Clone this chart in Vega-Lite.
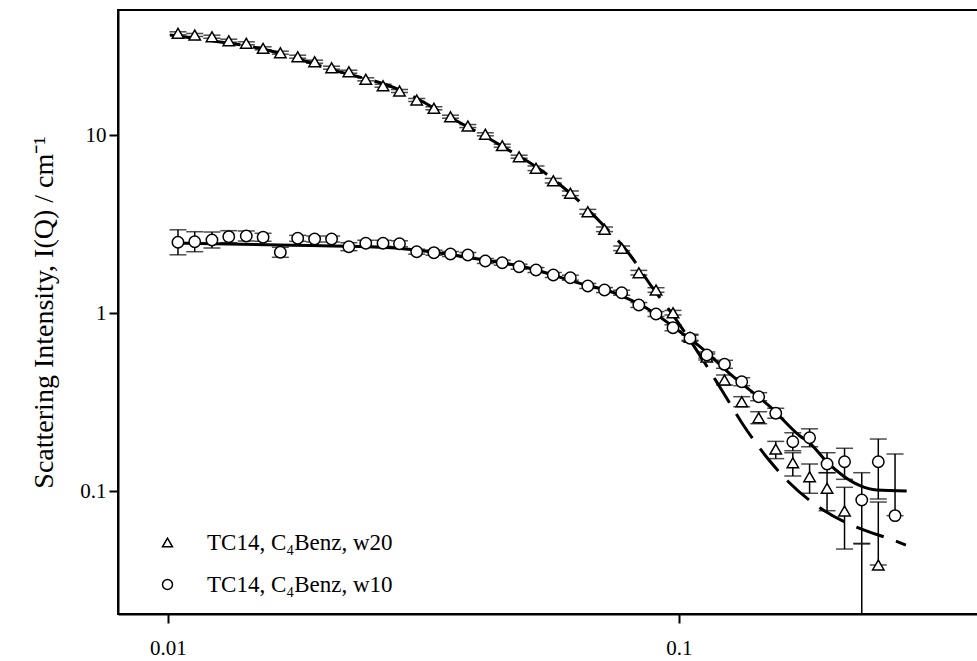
{
  "$schema": "https://vega.github.io/schema/vega-lite/v6.json",
  "width": 860,
  "height": 604,
  "autosize": {"type": "none"},
  "padding": {"left": 118, "top": 10, "right": 0, "bottom": 47},
  "background": "white",
  "config": {
    "view": {"stroke": "black", "strokeWidth": 2},
    "font": "Liberation Serif",
    "axis": {
      "grid": false,
      "domainColor": "black",
      "domainWidth": 2,
      "tickColor": "black",
      "tickWidth": 2,
      "tickSize": 9,
      "labelColor": "black",
      "labelFont": "Liberation Serif",
      "labelFontSize": 21,
      "titleFont": "Liberation Serif",
      "titleFontSize": 28,
      "titleFontWeight": "normal",
      "titleColor": "black"
    },
    "legend": {
      "padding": 0,
      "labelOffset": 28,
      "rowPadding": 18,
      "labelFont": "Liberation Serif",
      "labelFontSize": 23,
      "labelColor": "black",
      "labelLimit": 0
    }
  },
  "datasets": {
    "pts": [
      {"s":"w20","q":0.01046,"I":37.27,"lo":36.55,"hi":38.00},
      {"s":"w20","q":0.01128,"I":36.47,"lo":35.77,"hi":37.18},
      {"s":"w20","q":0.01219,"I":35.67,"lo":34.98,"hi":36.37},
      {"s":"w20","q":0.01315,"I":33.87,"lo":33.22,"hi":34.53},
      {"s":"w20","q":0.01423,"I":32.75,"lo":32.12,"hi":33.39},
      {"s":"w20","q":0.01535,"I":30.69,"lo":30.10,"hi":31.29},
      {"s":"w20","q":0.01659,"I":29.00,"lo":28.44,"hi":29.57},
      {"s":"w20","q":0.01794,"I":27.54,"lo":27.01,"hi":28.08},
      {"s":"w20","q":0.01936,"I":25.81,"lo":25.31,"hi":26.32},
      {"s":"w20","q":0.02090,"I":23.88,"lo":23.42,"hi":24.35},
      {"s":"w20","q":0.02259,"I":22.68,"lo":22.24,"hi":23.12},
      {"s":"w20","q":0.02438,"I":20.56,"lo":20.16,"hi":20.96},
      {"s":"w20","q":0.02635,"I":18.92,"lo":18.56,"hi":19.29},
      {"s":"w20","q":0.02838,"I":17.67,"lo":17.33,"hi":18.02},
      {"s":"w20","q":0.03067,"I":15.73,"lo":15.43,"hi":16.04},
      {"s":"w20","q":0.03314,"I":14.13,"lo":13.86,"hi":14.41},
      {"s":"w20","q":0.03571,"I":12.67,"lo":12.43,"hi":12.92},
      {"s":"w20","q":0.03862,"I":11.23,"lo":11.01,"hi":11.45},
      {"s":"w20","q":0.04178,"I":10.09,"lo":9.896,"hi":10.29},
      {"s":"w20","q":0.04509,"I":8.709,"lo":8.542,"hi":8.880},
      {"s":"w20","q":0.04865,"I":7.552,"lo":7.407,"hi":7.700},
      {"s":"w20","q":0.05250,"I":6.501,"lo":6.310,"hi":6.697},
      {"s":"w20","q":0.05675,"I":5.537,"lo":5.375,"hi":5.704},
      {"s":"w20","q":0.06128,"I":4.704,"lo":4.566,"hi":4.846},
      {"s":"w20","q":0.06630,"I":3.708,"lo":3.599,"hi":3.820},
      {"s":"w20","q":0.07148,"I":2.953,"lo":2.866,"hi":3.042},
      {"s":"w20","q":0.07724,"I":2.309,"lo":2.241,"hi":2.379},
      {"s":"w20","q":0.08344,"I":1.684,"lo":1.635,"hi":1.735},
      {"s":"w20","q":0.09016,"I":1.346,"lo":1.307,"hi":1.387},
      {"s":"w20","q":0.09733,"I":1.004,"lo":0.9746,"hi":1.034},
      {"s":"w20","q":0.10508,"I":0.7304,"lo":0.7026,"hi":0.7593},
      {"s":"w20","q":0.11335,"I":0.5661,"lo":0.5445,"hi":0.5885},
      {"s":"w20","q":0.12275,"I":0.4203,"lo":0.3940,"hi":0.4484},
      {"s":"w20","q":0.13267,"I":0.3175,"lo":0.2976,"hi":0.3387},
      {"s":"w20","q":0.14320,"I":0.2581,"lo":0.2388,"hi":0.2789},
      {"s":"w20","q":0.15465,"I":0.172,"lo":0.152,"hi":0.190},
      {"s":"w20","q":0.16700,"I":0.1442,"lo":0.1214,"hi":0.1641},
      {"s":"w20","q":0.18012,"I":0.1203,"lo":0.0971,"hi":0.1418},
      {"s":"w20","q":0.19486,"I":0.1036,"lo":0.0775,"hi":0.1267},
      {"s":"w20","q":0.21083,"I":0.0772,"lo":0.0472,"hi":0.1049},
      {"s":"w20","q":0.22785,"I":0.01,"lo":0.001,"hi":0.0504},
      {"s":"w20","q":0.24547,"I":0.0384,"lo":0.0384,"hi":0.0867},
      {"s":"w10","q":0.01046,"I":2.496,"lo":2.123,"hi":2.934},
      {"s":"w10","q":0.01128,"I":2.515,"lo":2.210,"hi":2.862},
      {"s":"w10","q":0.01219,"I":2.571,"lo":2.318,"hi":2.851},
      {"s":"w10","q":0.01315,"I":2.684,"lo":2.484,"hi":2.901},
      {"s":"w10","q":0.01423,"I":2.708,"lo":2.538,"hi":2.889},
      {"s":"w10","q":0.01535,"I":2.663,"lo":2.529,"hi":2.804},
      {"s":"w10","q":0.01659,"I":2.193,"lo":2.056,"hi":2.339},
      {"s":"w10","q":0.01794,"I":2.628,"lo":2.528,"hi":2.732},
      {"s":"w10","q":0.01936,"I":2.604,"lo":2.505,"hi":2.707},
      {"s":"w10","q":0.02090,"I":2.604,"lo":2.505,"hi":2.707},
      {"s":"w10","q":0.02259,"I":2.358,"lo":2.239,"hi":2.483},
      {"s":"w10","q":0.02438,"I":2.464,"lo":2.370,"hi":2.562},
      {"s":"w10","q":0.02635,"I":2.464,"lo":2.370,"hi":2.562},
      {"s":"w10","q":0.02838,"I":2.448,"lo":2.355,"hi":2.545},
      {"s":"w10","q":0.03067,"I":2.210,"lo":2.140,"hi":2.283},
      {"s":"w10","q":0.03314,"I":2.182,"lo":2.112,"hi":2.254},
      {"s":"w10","q":0.03571,"I":2.145,"lo":2.077,"hi":2.216},
      {"s":"w10","q":0.03862,"I":2.118,"lo":2.051,"hi":2.188},
      {"s":"w10","q":0.04178,"I":1.960,"lo":1.898,"hi":2.024},
      {"s":"w10","q":0.04509,"I":1.917,"lo":1.856,"hi":1.980},
      {"s":"w10","q":0.04865,"I":1.820,"lo":1.762,"hi":1.880},
      {"s":"w10","q":0.05250,"I":1.744,"lo":1.688,"hi":1.801},
      {"s":"w10","q":0.05675,"I":1.635,"lo":1.583,"hi":1.689},
      {"s":"w10","q":0.06128,"I":1.579,"lo":1.529,"hi":1.631},
      {"s":"w10","q":0.06630,"I":1.418,"lo":1.373,"hi":1.465},
      {"s":"w10","q":0.07148,"I":1.346,"lo":1.303,"hi":1.390},
      {"s":"w10","q":0.07724,"I":1.299,"lo":1.258,"hi":1.342},
      {"s":"w10","q":0.08344,"I":1.109,"lo":1.074,"hi":1.145},
      {"s":"w10","q":0.09016,"I":0.987,"lo":0.956,"hi":1.019},
      {"s":"w10","q":0.09733,"I":0.8257,"lo":0.7942,"hi":0.8584},
      {"s":"w10","q":0.10508,"I":0.7210,"lo":0.6935,"hi":0.7496},
      {"s":"w10","q":0.11335,"I":0.5808,"lo":0.5587,"hi":0.6038},
      {"s":"w10","q":0.12275,"I":0.5149,"lo":0.4889,"hi":0.5422},
      {"s":"w10","q":0.13267,"I":0.4112,"lo":0.3905,"hi":0.4330},
      {"s":"w10","q":0.14320,"I":0.3386,"lo":0.3215,"hi":0.3566},
      {"s":"w10","q":0.15465,"I":0.2733,"lo":0.2562,"hi":0.2916},
      {"s":"w10","q":0.16700,"I":0.1892,"lo":0.1684,"hi":0.2125},
      {"s":"w10","q":0.18012,"I":0.1990,"lo":0.1772,"hi":0.2235},
      {"s":"w10","q":0.19486,"I":0.1418,"lo":0.1267,"hi":0.1641},
      {"s":"w10","q":0.21083,"I":0.1461,"lo":0.1163,"hi":0.1738},
      {"s":"w10","q":0.22785,"I":0.0890,"lo":0.0508,"hi":0.1267},
      {"s":"w10","q":0.24547,"I":0.1461,"lo":0.0902,"hi":0.1959},
      {"s":"w10","q":0.26471,"I":0.0727,"lo":0.0727,"hi":0.1614}
    ],
    "fit": [
      {"c":"w10","q":0.01018,"I":2.474},
      {"c":"w10","q":0.01656,"I":2.410},
      {"c":"w10","q":0.02599,"I":2.339},
      {"c":"w10","q":0.02844,"I":2.304},
      {"c":"w10","q":0.03406,"I":2.174},
      {"c":"w10","q":0.04080,"I":2.003},
      {"c":"w10","q":0.04885,"I":1.837},
      {"c":"w10","q":0.06401,"I":1.468},
      {"c":"w10","q":0.07665,"I":1.262},
      {"c":"w10","q":0.08646,"I":1.063},
      {"c":"w10","q":0.10045,"I":0.785},
      {"c":"w10","q":0.1099,"I":0.647},
      {"c":"w10","q":0.1277,"I":0.4386},
      {"c":"w10","q":0.1507,"I":0.2976},
      {"c":"w10","q":0.1725,"I":0.2037},
      {"c":"w10","q":0.1805,"I":0.1853},
      {"c":"w10","q":0.1945,"I":0.1461},
      {"c":"w10","q":0.2097,"I":0.1214},
      {"c":"w10","q":0.2261,"I":0.1071},
      {"c":"w10","q":0.2437,"I":0.1013},
      {"c":"w10","q":0.2790,"I":0.100},
      {"c":"w20","q":0.01009,"I":36.47},
      {"c":"w20","q":0.01088,"I":35.39},
      {"c":"w20","q":0.01561,"I":30.02},
      {"c":"w20","q":0.02106,"I":23.19},
      {"c":"w20","q":0.02844,"I":17.89},
      {"c":"w20","q":0.03563,"I":12.58},
      {"c":"w20","q":0.04464,"I":8.788},
      {"c":"w20","q":0.05592,"I":5.832},
      {"c":"w20","q":0.07005,"I":3.258},
      {"c":"w20","q":0.08020,"I":2.118},
      {"c":"w20","q":0.08845,"I":1.405},
      {"c":"w20","q":0.09676,"I":0.996},
      {"c":"w20","q":0.1099,"I":0.578},
      {"c":"w20","q":0.1212,"I":0.3694},
      {"c":"w20","q":0.1336,"I":0.2349},
      {"c":"w20","q":0.1496,"I":0.1507},
      {"c":"w20","q":0.1637,"I":0.1128},
      {"c":"w20","q":0.1915,"I":0.0782},
      {"c":"w20","q":0.2238,"I":0.0622},
      {"c":"w20","q":0.2619,"I":0.0531},
      {"c":"w20","q":0.2780,"I":0.0497}
    ]
  },
  "layer": [
    {
      "data": {"name": "fit"},
      "transform": [{"filter": "datum.c == 'w10'"}],
      "mark": {"type": "line", "color": "black", "strokeWidth": 3, "interpolate": "monotone", "clip": true},
      "encoding": {
        "x": {"field": "q", "type": "quantitative", "scale": {"type": "log", "domain": [0.007983, 0.3847], "nice": false},
              "axis": {"values": [0.01, 0.1], "format": "~g", "title": null, "labelPadding": 14}},
        "y": {"field": "I", "type": "quantitative", "scale": {"type": "log", "domain": [0.02037, 50.38], "nice": false},
              "axis": {"values": [0.1, 1, 10], "format": "~g", "title": "Scattering Intensity, I(Q) / cm⁻¹", "labelPadding": 3, "titlePadding": 21}}
      }
    },
    {
      "data": {"name": "fit"},
      "transform": [{"filter": "datum.c == 'w20'"}],
      "mark": {"type": "line", "color": "black", "strokeWidth": 3, "strokeDash": [29, 13], "interpolate": "monotone", "clip": true},
      "encoding": {
        "x": {"field": "q", "type": "quantitative"},
        "y": {"field": "I", "type": "quantitative"}
      }
    },
    {
      "data": {"name": "pts"},
      "mark": {"type": "rule", "color": "black", "strokeWidth": 1.5, "clip": true},
      "encoding": {
        "x": {"field": "q", "type": "quantitative"},
        "y": {"field": "lo", "type": "quantitative"},
        "y2": {"field": "hi"}
      }
    },
    {
      "data": {"name": "pts"},
      "mark": {"type": "tick", "orient": "horizontal", "color": "black", "size": 17, "thickness": 1.5, "clip": true},
      "encoding": {
        "x": {"field": "q", "type": "quantitative"},
        "y": {"field": "lo", "type": "quantitative"}
      }
    },
    {
      "data": {"name": "pts"},
      "mark": {"type": "tick", "orient": "horizontal", "color": "black", "size": 17, "thickness": 1.5, "clip": true},
      "encoding": {
        "x": {"field": "q", "type": "quantitative"},
        "y": {"field": "hi", "type": "quantitative"}
      }
    },
    {
      "data": {"name": "pts"},
      "mark": {"type": "point", "filled": false, "fill": "white", "fillOpacity": 1, "stroke": "black", "strokeWidth": 1.5, "size": 130, "clip": true},
      "encoding": {
        "x": {"field": "q", "type": "quantitative"},
        "y": {"field": "I", "type": "quantitative"},
        "shape": {
          "field": "s", "type": "nominal",
          "scale": {"domain": ["w20", "w10"], "range": ["triangle-up", "circle"]},
          "legend": {
            "title": null,
            "orient": "none",
            "legendX": 38,
            "legendY": 521,
            "symbolSize": 100,
            "symbolStrokeWidth": 1.5,
            "labelExpr": "datum.label == 'w20' ? 'TC14, C₄Benz, w20' : 'TC14, C₄Benz, w10'"
          }
        }
      }
    }
  ]
}
